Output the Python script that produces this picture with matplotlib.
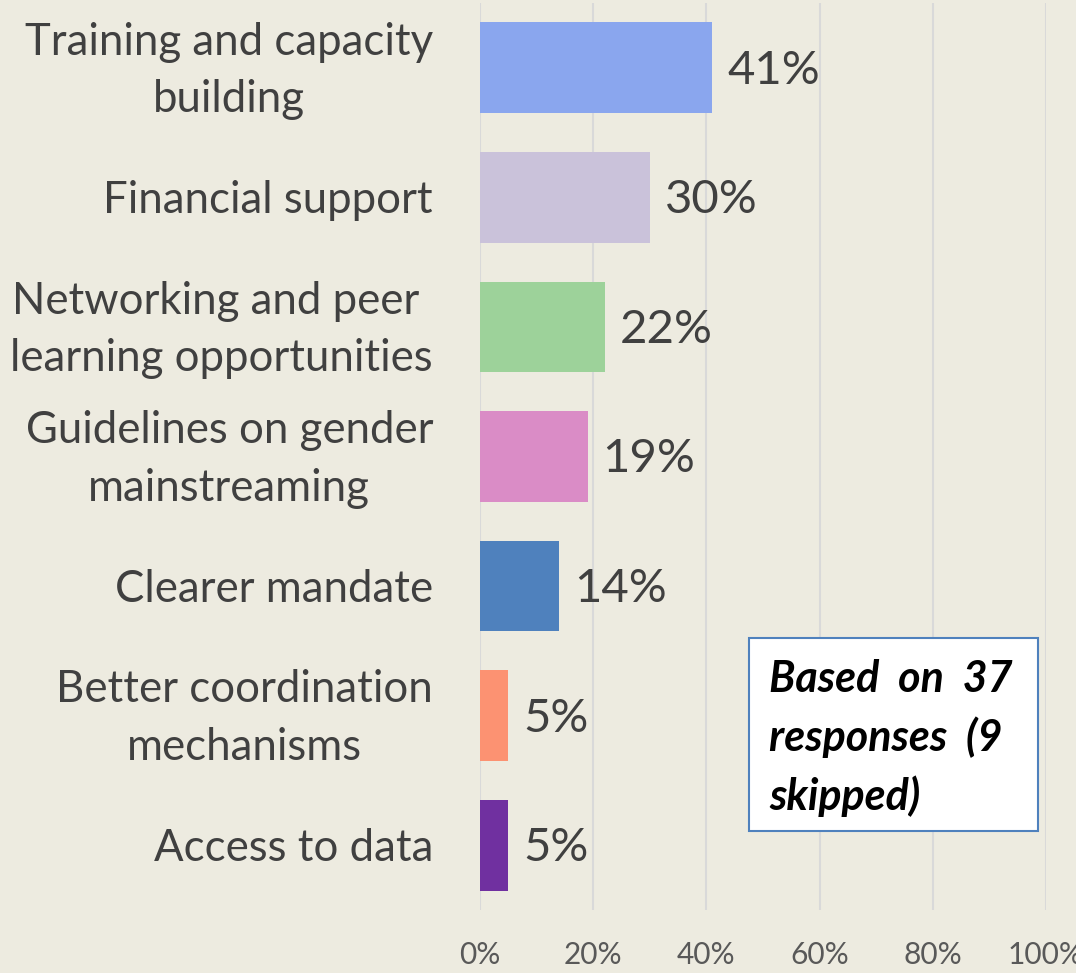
import matplotlib
matplotlib.use("Agg")
import matplotlib.pyplot as plt
from matplotlib.ticker import PercentFormatter
from matplotlib.transforms import ScaledTranslation, blended_transform_factory

plt.rcParams['font.family'] = ['Lato', 'DejaVu Sans']

# data
categories = [
    'Training and capacity\nbuilding',
    'Financial support',
    'Networking and peer \nlearning opportunities',
    'Guidelines on gender\nmainstreaming',
    'Clearer mandate',
    'Better coordination\nmechanisms',
    'Access to data',
]
values = [41, 30, 22, 19, 14, 5, 5]
colors = ['#8AA6EE', '#CAC2DA', '#9DD29A', '#DA8CC6', '#4F81BD', '#FC9272', '#7030A0']
x_ticks = [0, 20, 40, 60, 80, 100]
note = 'Based  on  37\nresponses  (9\nskipped)'

bg = '#EDEBE0'
W, H = 1076, 973

fig = plt.figure(figsize=(W / 100, H / 100), dpi=100, facecolor=bg)
ax = fig.add_axes([480 / W, (H - 910) / H, 566 / W, 907 / H])
ax.set_facecolor(bg)

y = list(range(len(categories)))
ax.barh(y, values, height=0.70, color=colors, zorder=3)

for yi, v in zip(y, values):
    ax.annotate(f'{v}%', (v, yi), xytext=(15, -3), textcoords='offset pixels',
                ha='left', va='center', fontsize=34, color='#404040')

ax.set_xlim(0, 100)
ax.set_ylim(len(categories) - 0.5, -0.5)
ax.set_xticks(x_ticks)
ax.xaxis.set_major_formatter(PercentFormatter(decimals=0))
ax.set_yticks(y)
ax.set_yticklabels([])

# category labels, drawn by hand so multi-line ones sit centred on the bar
trans = blended_transform_factory(ax.transAxes, ax.transData) + \
    ScaledTranslation(-47 / 100, -3 / 100, fig.dpi_scale_trans)
for yi, cat in zip(y, categories):
    ax.text(0, yi, cat, transform=trans, ha='right', va='center',
            multialignment='center', linespacing=1.5, fontsize=31.5,
            color='#404040', clip_on=False)

ax.tick_params(axis='y', length=0)
ax.tick_params(axis='x', length=0, pad=22, labelsize=21.5, labelcolor='#595959')
ax.grid(axis='x', color='#D9D9D9', linewidth=1.5, zorder=0)
for s in ax.spines.values():
    s.set_visible(False)

box = plt.Rectangle((749 / W, 1 - 831 / H), 289 / W, 193 / H, transform=fig.transFigure,
                    facecolor='white', edgecolor='#4F81BD', linewidth=1.5, zorder=1)
fig.patches.append(box)
fig.text(769 / W, 1 - 738 / H, note, ha='left', va='center', fontsize=31,
         fontweight='bold', fontstyle='italic', color='black', linespacing=1.5)

fig.savefig('out.png', dpi=100, facecolor=bg)
